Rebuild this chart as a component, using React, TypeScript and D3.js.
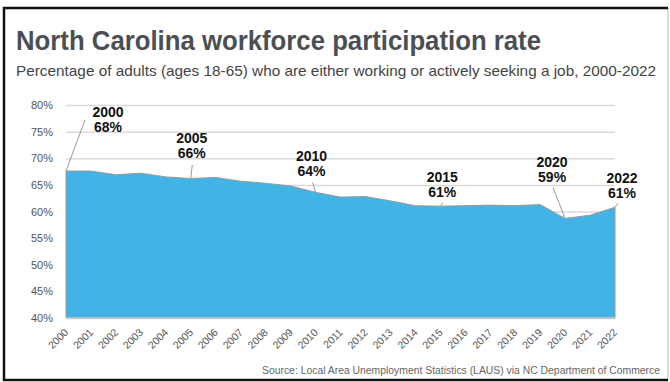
import React, { useEffect, useRef } from "react";
import { select, scaleLinear, area, line, axisLeft, range } from "d3";

// data
const years: number[] = range(2000, 2023);
const rates: number[] = [
  67.6, 67.6, 66.9, 67.2, 66.5, 66.2, 66.4, 65.7, 65.3, 64.8, 63.6, 62.7,
  62.8, 62.0, 61.1, 61.0, 61.1, 61.2, 61.1, 61.3, 58.7, 59.3, 60.8,
];
const yTicks: number[] = [40, 45, 50, 55, 60, 65, 70, 75, 80];
const labelYears: number[] = [2000, 2005, 2010, 2015, 2020, 2022];

const TITLE = "North Carolina workforce participation rate";
const SUBTITLE =
  "Percentage of adults (ages 18-65) who are either working or actively seeking a job, 2000-2022";
const SOURCE =
  "Source: Local Area Unemployment Statistics (LAUS) via NC Department of Commerce";

// label placement relative to the data point (pixels)
const labelOffsets: Record<number, { dx: number; dy: number; lx: number; ly: number }> = {
  2000: { dx: 42, dy: -54, lx: 19, ly: -51 },
  2005: { dx: 1, dy: -35, lx: 1.5, ly: -13.5 },
  2010: { dx: -4, dy: -31.6, lx: -3, ly: -10 },
  2015: { dx: 2, dy: -24, lx: 3, ly: -3.5 },
  2020: { dx: -13, dy: -51, lx: -12, ly: -30.7 },
  2022: { dx: 7, dy: -24, lx: 3, ly: -4 },
};

const WIDTH = 670;
const HEIGHT = 382;
const LEFT = 66;
const RIGHT = 615;
const TOP = 105;
const BOTTOM = 318;
const FONT = "'Liberation Sans', Arial, sans-serif";

const App = () => {
  const svgRef = useRef<SVGSVGElement | null>(null);

  useEffect(() => {
    const svg = select(svgRef.current);
    svg.selectAll("*").remove();

    const x = scaleLinear().domain([2000, 2022]).range([LEFT, RIGHT]);
    const y = scaleLinear().domain([40, 80]).range([BOTTOM, TOP]);
    const rows = years.map((yr, i) => ({ year: yr, value: rates[i] }));

    svg.append("rect").attr("width", WIDTH).attr("height", HEIGHT).attr("fill", "#fff");

    // frame
    svg
      .append("line")
      .attr("x1", 668)
      .attr("x2", 668)
      .attr("y1", 8)
      .attr("y2", 380)
      .attr("stroke", "#d0d0d0")
      .attr("stroke-width", 1.5);
    svg
      .append("path")
      .attr("d", "M668,8 H4 V380 H668")
      .attr("fill", "none")
      .attr("stroke", "#111")
      .attr("stroke-width", 2.5);

    // titles
    svg
      .append("text")
      .attr("x", 16)
      .attr("y", 50)
      .attr("font-family", FONT)
      .attr("font-weight", "bold")
      .attr("font-size", 27)
      .attr("fill", "#4b4f54")
      .attr("textLength", 525)
      .attr("lengthAdjust", "spacingAndGlyphs")
      .text(TITLE);
    svg
      .append("text")
      .attr("x", 16)
      .attr("y", 76)
      .attr("font-family", FONT)
      .attr("font-size", 15)
      .attr("fill", "#444")
      .attr("textLength", 640)
      .attr("lengthAdjust", "spacingAndGlyphs")
      .text(SUBTITLE);

    // y axis + gridlines
    const yAxis = axisLeft(y)
      .tickValues(yTicks)
      .tickSize(-(RIGHT - LEFT))
      .tickPadding(13)
      .tickFormat((d) => `${d}%`);
    const yG = svg.append("g").attr("transform", `translate(${LEFT},0)`).call(yAxis);
    yG.select(".domain").remove();
    yG.selectAll(".tick line").attr("stroke", "#dadada").attr("stroke-width", 1.5);
    yG.selectAll(".tick text")
      .attr("font-family", FONT)
      .attr("font-size", 11)
      .attr("fill", "#555");

    // area
    const areaGen = area<{ year: number; value: number }>()
      .x((d) => x(d.year))
      .y0(BOTTOM)
      .y1((d) => y(d.value));
    svg
      .append("path")
      .datum(rows)
      .attr("d", areaGen)
      .attr("fill", "#41b3e4")
      .attr("stroke", "#9a9a9a")
      .attr("stroke-width", 1);

    // x baseline
    svg
      .append("line")
      .attr("x1", LEFT)
      .attr("x2", RIGHT)
      .attr("y1", BOTTOM)
      .attr("y2", BOTTOM)
      .attr("stroke", "#c8c8c8")
      .attr("stroke-width", 1.5);

    // x labels rotated
    svg
      .append("g")
      .selectAll("text")
      .data(years)
      .enter()
      .append("text")
      .attr("transform", (d) => `translate(${x(d) + 3},${BOTTOM + 15}) rotate(-45)`)
      .attr("text-anchor", "end")
      .attr("font-family", FONT)
      .attr("font-size", 10.5)
      .attr("fill", "#555")
      .text((d) => d);

    // annotations
    const lineGen = line<[number, number]>();
    const ann = svg
      .append("g")
      .selectAll("g")
      .data(rows.filter((r) => labelYears.includes(r.year)))
      .enter()
      .append("g");
    ann
      .append("path")
      .attr("d", (d) => {
        const o = labelOffsets[d.year];
        const px = x(d.year);
        const py = y(d.value);
        return lineGen([
          [px, py],
          [px + o.lx, py + o.ly],
        ]);
      })
      .attr("stroke", "#999")
      .attr("stroke-width", 1)
      .attr("fill", "none");
    const txt = ann
      .append("text")
      .attr("text-anchor", "middle")
      .attr("font-family", FONT)
      .attr("font-weight", "bold")
      .attr("font-size", 14)
      .attr("fill", "#111");
    txt
      .append("tspan")
      .attr("x", (d) => x(d.year) + labelOffsets[d.year].dx)
      .attr("y", (d) => y(d.value) + labelOffsets[d.year].dy)
      .text((d) => d.year);
    txt
      .append("tspan")
      .attr("x", (d) => x(d.year) + labelOffsets[d.year].dx)
      .attr("y", (d) => y(d.value) + labelOffsets[d.year].dy + 15)
      .text((d) => `${Math.round(d.value)}%`);

    // source
    svg
      .append("text")
      .attr("x", 660)
      .attr("y", 374)
      .attr("text-anchor", "end")
      .attr("font-family", FONT)
      .attr("font-size", 10)
      .attr("fill", "#666")
      .attr("textLength", 398)
      .attr("lengthAdjust", "spacingAndGlyphs")
      .text(SOURCE);
  }, []);

  return (
    <div style={{ position: "absolute", left: 0, top: 0 }}>
      <svg ref={svgRef} width={WIDTH} height={HEIGHT}></svg>
    </div>
  );
};

export default App;
